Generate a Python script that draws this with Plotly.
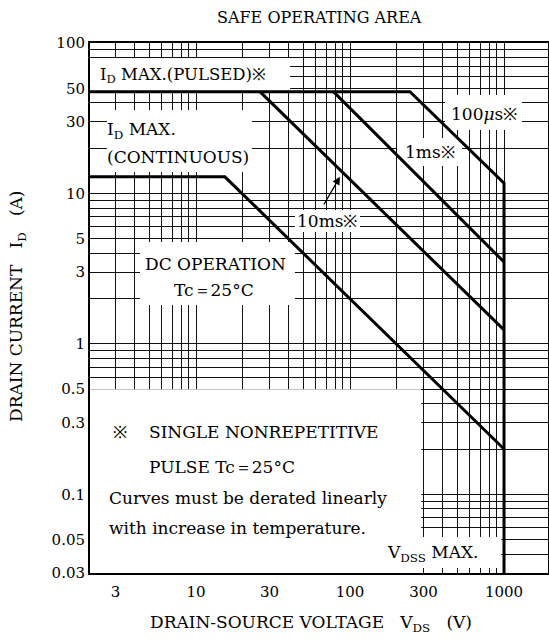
import math
import plotly.graph_objects as go

# ---------------- data ----------------
x_grid = [3, 4, 5, 6, 7, 8, 9, 10, 20, 30, 40, 50, 60, 70, 80, 90,
          100, 200, 300, 400, 500, 600, 700, 800, 900, 1000]
x_label_vals = [3, 10, 30, 100, 300, 1000]
y_grid = [0.03, 0.04, 0.05, 0.06, 0.07, 0.08, 0.09,
          0.1, 0.2, 0.3, 0.4, 0.5, 0.6, 0.7, 0.8, 0.9,
          1, 2, 3, 4, 5, 6, 7, 8, 9,
          10, 20, 30, 40, 50, 60, 70, 80, 90, 100]
y_label_vals = [0.03, 0.05, 0.1, 0.3, 0.5, 1, 3, 5, 10, 30, 50, 100]

dc_v = [2, 15.4, 1000]
dc_i = [12.9, 12.9, 0.2]
ms10_v = [26, 1000]
ms10_i = [47.5, 1.24]
ms1_v = [78, 1000]
ms1_i = [47.5, 3.5]
us100_v = [2, 245, 1000, 1000]
us100_i = [47.5, 47.5, 11.7, 0.03]

# white label boxes that interrupt the grid: (v0, v1, i0, i1)
boxes = [
    (2, 40.8, 47.5, 79.4),      # I_D MAX (PULSED)
    (2.64, 23.1, 13.9, 35.9),   # I_D MAX (CONTINUOUS)
    (43.9, 116, 5.54, 7.77),    # 10ms
    (202, 534, 15.2, 23.4),     # 1ms
    (414, 1309, 26.4, 45.1),    # 100us
    (4.33, 43.9, 1.81, 4.75),   # DC OPERATION
    (2, 290, 0.03, 0.5),        # note
    (164, 960, 0.0324, 0.052),  # VDSS MAX
]

# 10ms pointer arrow: (tail V, tail I, head V, head I)
arrow_10ms = (66.8, 8.25, 86, 12.9)

W, H = 549, 642
L, R, T, B = 90, 548, 43, 573
FONT = "DejaVu Serif"
FS = 17


def P(px, py):
    return (px - L) / (R - L), (B - py) / (B - T)


def fmt(v):
    return ("%g" % v)


fig = go.Figure()

for v, i in [(dc_v, dc_i), (ms10_v, ms10_i), (ms1_v, ms1_i), (us100_v, us100_i)]:
    fig.add_trace(go.Scatter(x=v, y=i, mode="lines",
                             line=dict(color="black", width=3),
                             showlegend=False, hoverinfo="skip"))

for (v0, v1, i0, i1) in boxes:
    fig.add_shape(type="rect", xref="x", yref="y", x0=v0, x1=v1, y0=i0, y1=i1,
                  fillcolor="white", line=dict(width=0), layer="between")


def ann(px, py, text, size=FS, xanchor="center", family=FONT, **kw):
    x, y = P(px, py)
    fig.add_annotation(x=x, y=y, xref="paper", yref="paper", text=text,
                       showarrow=False, xanchor=xanchor, yanchor="middle",
                       font=dict(family=family, size=size, color="black"), **kw)


NB = "\u00a0"
ann(319, 18, "SAFE OPERATING AREA", size=16)
ann(311, 623, "DRAIN-SOURCE VOLTAGE" + NB * 3 + "V<sub>DS</sub>" + NB * 3 + "(V)")
ann(17, 306, "DRAIN CURRENT" + NB * 3 + "I<sub>D</sub>" + NB * 3 + "(A)", textangle=-90)

ann(98, 75, "I<sub>D</sub> MAX.(PULSED)\u203b", size=16.5, xanchor="left")
ann(105, 130, "I<sub>D</sub> MAX.", xanchor="left")
ann(105, 157, "(CONTINUOUS)", xanchor="left")
ann(484, 114, "100<i>\u03bc</i>s\u203b")
ann(430, 152, "1ms\u203b")
ann(327, 221, "10ms\u203b")
ann(215, 264, "DC OPERATION")
ann(214, 290, "Tc\uff1d25\u00b0C")
ann(120, 432, "\u203b")
ann(147, 432, "SINGLE NONREPETITIVE", xanchor="left")
ann(147, 467, "PULSE Tc\uff1d25\u00b0C", xanchor="left")
ann(107, 498, "Curves must be derated linearly", xanchor="left")
ann(107, 528, "with increase in temperature.", xanchor="left")
ann(385, 553, "V<sub>DSS</sub> MAX.", xanchor="left")

# arrow pointing at the 10ms curve (log axes: positions given as log10)
tv, ti, hv, hi = arrow_10ms
fig.add_annotation(x=math.log10(hv), y=math.log10(hi),
                   ax=math.log10(tv), ay=math.log10(ti),
                   xref="x", yref="y", axref="x", ayref="y", text="",
                   showarrow=True, arrowhead=2, arrowsize=1.2,
                   arrowwidth=1.3, arrowcolor="black")

axis_common = dict(type="log", showgrid=True, gridcolor="#111", gridwidth=1,
                   showline=True, linecolor="black", linewidth=2, mirror=True,
                   ticks="", zeroline=False,
                   tickfont=dict(family=FONT, size=15, color="black"))

fig.update_xaxes(range=[math.log10(2.05), math.log10(1930)],
                 tickvals=x_grid,
                 ticktext=[fmt(v) if v in x_label_vals else "" for v in x_grid],
                 ticklabelstandoff=4, **axis_common)
fig.update_yaxes(range=[math.log10(0.03), 2],
                 tickvals=y_grid,
                 ticktext=[fmt(v) if v in y_label_vals else "" for v in y_grid],
                 **axis_common)

fig.update_layout(width=W, height=H, autosize=False, template="none",
                  margin=dict(l=L, r=W - R, t=T, b=H - B),
                  plot_bgcolor="white", paper_bgcolor="white",
                  showlegend=False)

fig.write_html("out.html", config={"displayModeBar": False},
               post_script="document.body.style.margin='0';document.body.style.overflow='hidden';")
